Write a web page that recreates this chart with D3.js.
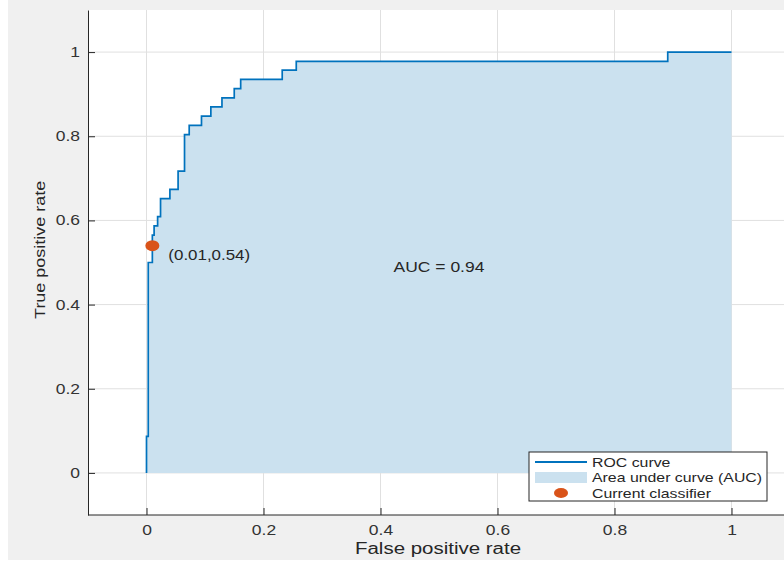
<!DOCTYPE html>
<html>
<head>
<meta charset="utf-8">
<script src="https://cdn.jsdelivr.net/npm/d3@7"></script>
<style>
  body { margin: 0; background: #fff; }
  text { font-family: "Liberation Sans", Arial, sans-serif; }
</style>
</head>
<body>
<div id="chart"></div>
<script>
// puntos de la curva ROC (esquinas de la escalera)
const fpr = [0, 0, 0.003, 0.01, 0.013, 0.019, 0.024, 0.04, 0.054, 0.065, 0.073, 0.094, 0.110, 0.129, 0.150, 0.161, 0.232, 0.256, 0.891, 1];
const tpr = [0, 0.087, 0.5, 0.565, 0.587, 0.609, 0.652, 0.674, 0.717, 0.804, 0.826, 0.848, 0.870, 0.891, 0.913, 0.935, 0.957, 0.978, 1, 1];
const ticks = [0, 0.2, 0.4, 0.6, 0.8, 1];
const classifier = [0.01, 0.54];
const aucText = "AUC = 0.94";
const legendItems = ["ROC curve", "Area under curve (AUC)", "Current classifier"];

const W = 784, H = 561;
const margin = { top: 10, left: 88, bottom: 46 };

// el texto de la captura original sale estirado a lo ancho
function estirar(sel, k) {
    sel.each(function () {
        const t = d3.select(this);
        const x = +t.attr("x") || 0;
        t.attr("transform", `translate(${x},0) scale(${k},1) translate(${-x},0)`);
    });
}

const svg = d3.select("#chart").append("svg")
    .attr("width", W)
    .attr("height", H);

// fondo de la figura
svg.append("rect").attr("x", 8).attr("y", 0).attr("width", W - 8).attr("height", 560).attr("fill", "#f0f0f0");

const xScale = d3.scaleLinear().domain([-0.1, 1.1]).range([margin.left, margin.left + 702]);
const yScale = d3.scaleLinear().domain([-0.1, 1.1]).range([H - margin.bottom, margin.top]);

svg.append("rect")
    .attr("x", xScale(-0.1)).attr("y", yScale(1.1))
    .attr("width", xScale(1.1) - xScale(-0.1))
    .attr("height", yScale(-0.1) - yScale(1.1))
    .attr("fill", "#fff");

// rejilla
svg.append("g").selectAll("line").data(ticks).enter().append("line")
    .attr("x1", d => xScale(d)).attr("x2", d => xScale(d))
    .attr("y1", yScale(1.1)).attr("y2", yScale(-0.1))
    .attr("stroke", "#e0e0e0");
svg.append("g").selectAll("line").data(ticks).enter().append("line")
    .attr("y1", d => yScale(d)).attr("y2", d => yScale(d))
    .attr("x1", xScale(-0.1)).attr("x2", W)
    .attr("stroke", "#e0e0e0");

const pts = fpr.map((f, i) => [f, tpr[i]]);

// area bajo la curva
const area = d3.area()
    .x(d => xScale(d[0]))
    .y0(yScale(0))
    .y1(d => yScale(d[1]))
    .curve(d3.curveStepAfter);
svg.append("path").datum(pts).attr("d", area).attr("fill", "#cbe1ef");

const line = d3.line()
    .x(d => xScale(d[0]))
    .y(d => yScale(d[1]))
    .curve(d3.curveStepAfter);
svg.append("path").datum(pts).attr("d", line)
    .attr("fill", "none").attr("stroke", "#0072bd").attr("stroke-width", 1.7);

// clasificador actual
svg.append("ellipse")
    .attr("cx", xScale(classifier[0])).attr("cy", yScale(classifier[1]))
    .attr("rx", 7).attr("ry", 5.5).attr("fill", "#d95319");
svg.append("text")
    .attr("x", xScale(classifier[0]) + 16).attr("y", yScale(classifier[1]) + 14)
    .text(`(${classifier[0]},${classifier[1]})`)
    .attr("fill", "#262626").style("font-size", "14px")
    .call(estirar, 1.21);

svg.append("text")
    .attr("x", xScale(0.5)).attr("y", yScale(0.5) + 10)
    .attr("text-anchor", "middle")
    .text(aucText).attr("fill", "#262626").style("font-size", "14px")
    .call(estirar, 1.25);

// ejes
const xAxis = svg.append("g")
    .attr("transform", `translate(0,${yScale(-0.1)})`)
    .call(d3.axisBottom(xScale).tickValues(ticks).tickFormat(d3.format("~g")).tickSizeInner(-7).tickSizeOuter(0).tickPadding(10));
const yAxis = svg.append("g")
    .attr("transform", `translate(${xScale(-0.1)},0)`)
    .call(d3.axisLeft(yScale).tickValues(ticks).tickFormat(d3.format("~g")).tickSizeInner(-7).tickSizeOuter(0).tickPadding(8));
[xAxis, yAxis].forEach(a => {
    a.select(".domain").attr("stroke", "#262626");
    a.selectAll(".tick line").attr("stroke", "#262626");
    a.selectAll("text").attr("fill", "#333").style("font-size", "14px")
        .style("font-family", "'Liberation Sans', Arial, sans-serif")
        .call(estirar, 1.25);
});
xAxis.select(".domain").attr("d", `M${xScale(-0.1)},0H${W}`);

svg.append("text")
    .attr("x", 438).attr("y", 554)
    .attr("text-anchor", "middle")
    .text("False positive rate").attr("fill", "#262626").style("font-size", "16px")
    .call(estirar, 1.28);
svg.append("g")
    .attr("transform", `translate(45,${yScale(0.53)}) rotate(-90)`)
    .append("text")
    .attr("text-anchor", "middle")
    .text("True positive rate").attr("fill", "#262626").style("font-size", "15.5px")
    .call(estirar, 1.16);

// leyenda
const lg = svg.append("g").attr("transform", "translate(529,452)");
lg.append("rect").attr("width", 238).attr("height", 49)
    .attr("fill", "#fff").attr("stroke", "#262626");
lg.append("line").attr("x1", 6).attr("x2", 58).attr("y1", 10).attr("y2", 10)
    .attr("stroke", "#0072bd").attr("stroke-width", 2);
lg.append("rect").attr("x", 6).attr("y", 20).attr("width", 52).attr("height", 11).attr("fill", "#cbe1ef");
lg.append("ellipse").attr("cx", 32).attr("cy", 41).attr("rx", 7).attr("ry", 5).attr("fill", "#d95319");
lg.selectAll("text.leg").data(legendItems).enter().append("text")
    .attr("class", "leg")
    .attr("x", 63).attr("y", (d, i) => 15 + i * 15.5)
    .text(d => d).attr("fill", "#262626").style("font-size", "13px")
    .call(estirar, 1.22);
</script>
</body>
</html>
